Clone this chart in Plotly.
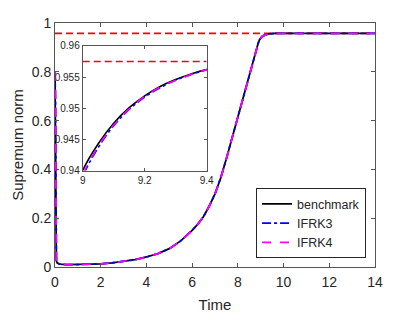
import plotly.graph_objects as go

# ---------------- data ----------------
time = [0, 0.02, 0.06, 0.1, 0.2, 0.5, 1, 1.5, 2, 2.5, 3, 3.5, 4, 4.5, 5, 5.5, 6, 6.25,
        6.5, 6.75, 7, 7.25, 7.5, 7.75, 8, 8.25, 8.5, 8.6, 8.7, 8.8, 8.9, 8.95, 9.0,
        9.05, 9.1, 9.15, 9.2, 9.25, 9.3, 9.35, 9.4, 9.5, 9.6, 9.8, 10, 11, 12, 13, 14]

benchmark = [0.80, 0.35, 0.025, 0.016, 0.012, 0.010, 0.010, 0.011, 0.013, 0.017,
             0.022, 0.030, 0.041, 0.055, 0.075, 0.107, 0.150, 0.176,
             0.207, 0.250, 0.300, 0.365, 0.445, 0.530, 0.612, 0.700, 0.790, 0.826,
             0.861, 0.893, 0.921, 0.9320, 0.9400,
             0.9443, 0.9476, 0.9501, 0.9520, 0.9535, 0.9546, 0.9555, 0.9562, 0.9569,
             0.9572, 0.9574, 0.9575, 0.9575, 0.9575, 0.9575, 0.9575]

ifrk3 = [0.80, 0.70, 0.030, 0.017, 0.012, 0.010, 0.010, 0.011, 0.013, 0.017,
         0.022, 0.030, 0.041, 0.055, 0.075, 0.107, 0.150, 0.176,
         0.207, 0.250, 0.300, 0.365, 0.445, 0.530, 0.612, 0.700, 0.789, 0.825,
         0.860, 0.891, 0.919, 0.9307, 0.9390,
         0.9437, 0.9472, 0.9498, 0.9518, 0.9533, 0.9545, 0.9554, 0.9562, 0.9569,
         0.9572, 0.9574, 0.9575, 0.9575, 0.9575, 0.9575, 0.9575]

ifrk4 = [0.80, 0.70, 0.030, 0.017, 0.012, 0.010, 0.010, 0.011, 0.013, 0.017,
         0.022, 0.030, 0.041, 0.055, 0.075, 0.107, 0.150, 0.176,
         0.207, 0.250, 0.300, 0.365, 0.445, 0.530, 0.612, 0.700, 0.789, 0.825,
         0.860, 0.892, 0.920, 0.9310, 0.9393,
         0.9439, 0.9473, 0.9499, 0.9519, 0.9534, 0.9545, 0.9554, 0.9562, 0.9569,
         0.9572, 0.9574, 0.9575, 0.9575, 0.9575, 0.9575, 0.9575]

ref_level = 0.9575
main_xrange = [0, 14]
main_yrange = [0, 1]
inset_xrange = [9, 9.4]
inset_yrange = [0.94, 0.96]

main_xticks = [0, 2, 4, 6, 8, 10, 12, 14]
main_yticks = [0, 0.2, 0.4, 0.6, 0.8, 1]
main_yticklabels = ["0", "0.2", "0.4", "0.6", "0.8", "1"]
inset_xticks = [9, 9.2, 9.4]
inset_yticks = [0.94, 0.945, 0.95, 0.955, 0.96]
inset_yticklabels = ["0.94", "0.945", "0.95", "0.955", "0.96"]

series = [
    ("benchmark", benchmark, "black", "solid"),
    ("IFRK3", ifrk3, "#0000ff", "dashdot"),
    ("IFRK4", ifrk4, "#ff00ff", "dash"),
]

FONT = "Liberation Sans, Arial, sans-serif"
AX = "#555555"
TXT = "#262626"

fig = go.Figure()

# reference level
fig.add_trace(go.Scatter(x=main_xrange, y=[ref_level, ref_level], mode="lines",
                         line=dict(color="#ff0000", width=1.6, dash="7px,4px"),
                         showlegend=False, hoverinfo="skip"))
fig.add_trace(go.Scatter(x=inset_xrange, y=[ref_level, ref_level], mode="lines",
                         line=dict(color="#ff0000", width=1.6, dash="7px,4px"),
                         showlegend=False, hoverinfo="skip", xaxis="x2", yaxis="y2"))

for name, vals, col, dash in series:
    fig.add_trace(go.Scatter(x=time, y=vals, mode="lines", name=name,
                             line=dict(color=col, width=1.8, dash=dash)))
for name, vals, col, dash in series:
    fig.add_trace(go.Scatter(x=time, y=vals, mode="lines", name=name, showlegend=False,
                             line=dict(color=col, width=1.6, dash=dash, shape="spline"),
                             xaxis="x2", yaxis="y2"))

axis_common = dict(showline=True, linecolor=AX, linewidth=1, mirror="ticks",
                   ticks="inside", tickcolor=AX, showgrid=False, zeroline=False,
                   automargin=False, tickfont=dict(family=FONT, color=TXT))

fig.update_layout(
    width=415, height=312,
    margin=dict(l=47, r=48, t=15, b=53),
    paper_bgcolor="white", plot_bgcolor="white",
    font=dict(family=FONT, color=TXT),
    xaxis=dict(axis_common, range=main_xrange, tickvals=main_xticks, ticklen=4,
               ticklabelstandoff=2,
               tickfont=dict(family=FONT, size=14, color=TXT),
               title=dict(text="Time", font=dict(family=FONT, size=15, color=TXT), standoff=10),
               domain=[0, 1], anchor="y"),
    yaxis=dict(axis_common, range=main_yrange, tickvals=main_yticks,
               ticktext=main_yticklabels, ticklen=4,
               tickfont=dict(family=FONT, size=14, color=TXT),
               title=dict(text="Supremum norm", font=dict(family=FONT, size=15, color=TXT), standoff=4),
               domain=[0, 1], anchor="x"),
    xaxis2=dict(axis_common, range=inset_xrange, tickvals=inset_xticks, ticklen=3,
                tickfont=dict(family=FONT, size=10, color=TXT),
                domain=[0.0866, 0.474], anchor="y2"),
    yaxis2=dict(axis_common, range=inset_yrange, tickvals=inset_yticks,
                ticktext=inset_yticklabels, ticklen=3,
                tickfont=dict(family=FONT, size=10, color=TXT),
                domain=[0.395, 0.906], anchor="x2"),
    legend=dict(x=0.972, y=0.036, xanchor="right", yanchor="bottom",
                bgcolor="white", bordercolor=TXT, borderwidth=1,
                font=dict(family=FONT, size=12.5, color=TXT),
                tracegroupgap=0, itemwidth=30),
    showlegend=True,
)

fig.write_html("out.html")
